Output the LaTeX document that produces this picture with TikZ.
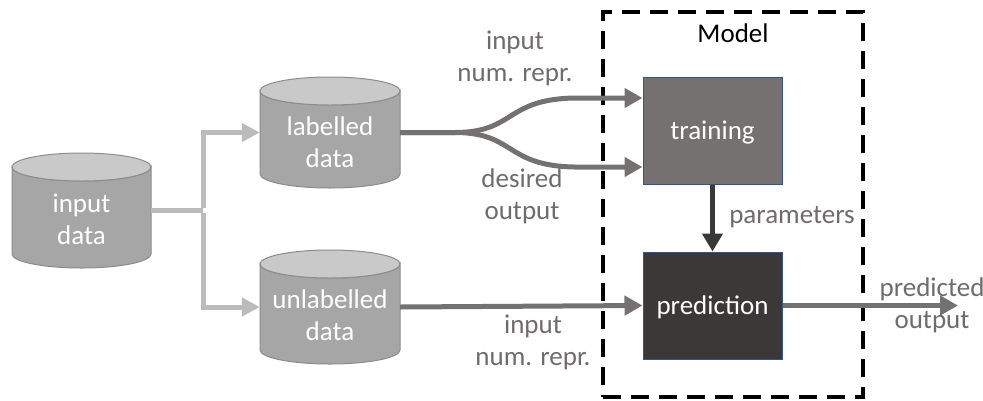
\documentclass[tikz,border=0pt]{standalone}
\usepackage{fontspec}
\setmainfont{Carlito}
\usetikzlibrary{arrows.meta}
\definecolor{cylbody}{HTML}{A6A6A6}
\definecolor{cyltop}{HTML}{C9C9C9}
\definecolor{cylline}{HTML}{8C8C8C}
\definecolor{lightarrow}{HTML}{BDBABA}
\definecolor{midgray}{HTML}{767171}
\definecolor{darkgray}{HTML}{3B3838}
\definecolor{boxline}{HTML}{2F5597}
\definecolor{labelgray}{HTML}{6F6B6B}
\begin{document}
\begin{tikzpicture}[x=1pt,y=-1pt,
  txt/.style={font=\fontsize{27}{32}\selectfont, align=center, inner sep=0pt},
  cylbox/.style={minimum width=139pt, minimum height=115pt, inner sep=0pt},
  cylbodystyle/.style={fill=cylbody, draw=cylline, line width=1pt},
  cyltopstyle/.style={fill=cyltop, draw=cylline, line width=1pt},
  procbox/.style={minimum width=139pt, minimum height=107pt, draw=boxline, line width=1pt, inner sep=0pt},
  lightline/.style={draw=lightarrow, line width=5pt},
  lightarr/.style={lightline, -{Triangle[length=18pt,width=18pt]}},
  midarr/.style={draw=midgray, line width=5pt, -{Triangle[length=18pt,width=19pt]}},
  darkarr/.style={draw=darkgray, line width=5pt, -{Triangle[length=18pt,width=20pt]}},
  modelbox/.style={draw=black, line width=4pt, dash pattern=on 18pt off 10pt, minimum width=260pt, minimum height=385pt, inner sep=0pt}
]
\useasboundingbox (0,0) rectangle (983,400);

% ---- cylinders ----
% input data: x 12..151, top 153, bottom 268
\path[cylbodystyle] (12,167) -- (12,254) arc[start angle=180,end angle=0,x radius=69.5,y radius=14] -- (151,167) arc[start angle=0,end angle=180,x radius=69.5,y radius=14] -- cycle;
\path[cyltopstyle] (81.5,167) ellipse[x radius=69.5,y radius=14];
\node[cylbox] (in) at (81.5,210.5) {};
\node[txt, text=white] (intxt) at (81.5,219) {input\\data};

% labelled data: x 260..400, top 77, bottom 188
\path[cylbodystyle] (260,91) -- (260,174) arc[start angle=180,end angle=0,x radius=70,y radius=14] -- (400,91) arc[start angle=0,end angle=180,x radius=70,y radius=14] -- cycle;
\path[cyltopstyle] (330,91) ellipse[x radius=70,y radius=14];
\node[cylbox, minimum width=140pt, minimum height=111pt] (lab) at (330,132.5) {};
\node[txt, text=white] (labtxt) at (330,142) {labelled\\data};

% unlabelled data: x 260..400, top 250, bottom 364
\path[cylbodystyle] (260,264) -- (260,350) arc[start angle=180,end angle=0,x radius=70,y radius=14] -- (400,264) arc[start angle=0,end angle=180,x radius=70,y radius=14] -- cycle;
\path[cyltopstyle] (330,264) ellipse[x radius=70,y radius=14];
\node[cylbox, minimum width=140pt, minimum height=114pt] (unl) at (330,307) {};
\node[txt, text=white] (unltxt) at (330,315) {unlabelled\\data};

% ---- model box and processes ----
\node[modelbox] (model) at (733,204.5) {};
\node[txt, text=black] (modeltxt) at (733,33) {Model};
\node[procbox, fill=midgray] (train) at (712.5,130.5) {};
\node[txt, text=white] (traintxt) at (712.5,133) {training};
\node[procbox, fill=darkgray] (pred) at (712.5,305.5) {};
\node[txt, text=white] (predtxt) at (712.5,307) {prediction};

% ---- connectors ----
\coordinate (fork) at (203,210.5);
\draw[lightline] (in.east) -- (fork);
\draw[lightarr] ([yshift=2.5pt]fork) |- (lab.west);
\draw[lightarr] ([yshift=-2.5pt]fork) |- (unl.west);

\draw[midarr] (lab.east) -- (455,132.5) .. controls (515,132.5) and (505,99) .. (575,98) -- ([yshift=32.5pt]train.west);
\draw[midarr] (lab.east) -- (455,132.5) .. controls (515,132.5) and (505,166) .. (575,167) -- ([yshift=-36.5pt]train.west);
\draw[midarr] (unl.east) -- (pred.west);
\draw[darkarr] (train.south) -- (pred.north);
\coordinate (out) at (958,305.5);
\draw[midarr] (pred.east) -- (out);

% ---- labels ----
\node[txt, text=labelgray] (l1) at (515,58) {input\\num. repr.};
\node[txt, text=labelgray] (l2) at (522,196) {desired\\output};
\node[txt, text=labelgray] (l3) at (533,342) {input\\num. repr.};
\node[txt, text=labelgray] (l4) at (792,217) {parameters};
\node[txt, text=labelgray] (l5) at (932,305) {predicted\\output};
\end{tikzpicture}
\end{document}
